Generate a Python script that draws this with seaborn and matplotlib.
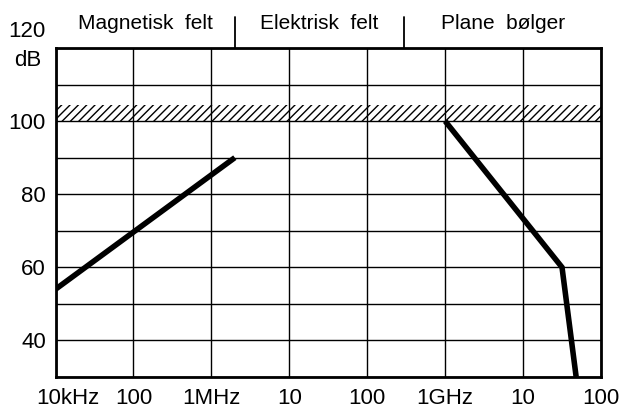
import matplotlib
matplotlib.use("Agg")
import matplotlib.pyplot as plt
import matplotlib.transforms as mtransforms
import seaborn as sns
import numpy as np

# Data
magnetic_freq = [1e4, 2e6]
magnetic_db = [54, 90]

plane_freq = [1e9, 3.16e10, 4.8e10]
plane_db = [100, 60, 30]

# hatched limit band (dB)
band_low, band_high = 100, 104.5

x_ticks = [1e4, 1e5, 1e6, 1e7, 1e8, 1e9, 1e10, 1e11]
x_labels = ["10kHz", "100", "1MHz", "10", "100", "1GHz", "10", "100"]
y_ticks = [30, 40, 50, 60, 70, 80, 90, 100, 110, 120]
y_labels = ["", "40", "", "60", "", "80", "", "100", "", ""]

# field regions along the top
region_edges = [1e4, 2e6, 3e8, 1e11]
region_names = ["Magnetisk  felt", "Elektrisk  felt", "Plane  bølger"]

sns.set_style("white")
plt.rcParams["font.family"] = ["Liberation Sans", "DejaVu Sans"]
plt.rcParams["text.color"] = "black"
plt.rcParams["hatch.linewidth"] = 1.0

fig = plt.figure(figsize=(6.21, 4.12), dpi=100)
ax = fig.add_axes([0.0894, 0.085, 0.9678 - 0.0894, 0.8835 - 0.085])

ax.set_xscale("log")
ax.set_xlim(1e4, 1e11)
ax.set_ylim(30, 120)

# hatched band
ax.axhspan(band_low, band_high, facecolor="none", edgecolor="black",
           hatch="////", linewidth=0, zorder=1)

sns.lineplot(x=magnetic_freq, y=magnetic_db, sort=False, color="black",
             linewidth=4, solid_capstyle="butt", ax=ax, zorder=3)
sns.lineplot(x=plane_freq, y=plane_db, sort=False, color="black",
             linewidth=4, solid_capstyle="butt", solid_joinstyle="miter",
             ax=ax, zorder=3)

ax.set_xticks(x_ticks)
ax.set_xticklabels(x_labels)
ax.xaxis.set_minor_locator(matplotlib.ticker.NullLocator())
ax.set_yticks(y_ticks)
ax.set_yticklabels(y_labels)
ax.tick_params(axis="both", length=0, labelsize=16, colors="black")
ax.tick_params(axis="x", pad=8)
ax.tick_params(axis="y", pad=7)

# nudge the first x label to the right like the original
first = ax.get_xticklabels()[0]
first.set_transform(first.get_transform() +
                    mtransforms.ScaledTranslation(9 / 72, 0, fig.dpi_scale_trans))

ax.grid(True, color="black", linewidth=1.0)
ax.set_axisbelow(True)
for side in ax.spines.values():
    side.set_linewidth(2.0)
    side.set_color("black")
    side.set_zorder(4)

# "120" and unit label at the top of the y axis
ax.annotate("120", xy=(0, 120), xycoords=("axes fraction", "data"),
            xytext=(-7, 12), textcoords="offset points",
            ha="right", va="center", fontsize=16)
ax.annotate("dB", xy=(0, 120), xycoords=("axes fraction", "data"),
            xytext=(-20, -9), textcoords="offset points",
            ha="center", va="center", fontsize=16)

# region dividers and names above the plot
trans = mtransforms.blended_transform_factory(ax.transData, ax.transAxes)
for edge in region_edges[1:-1]:
    ax.plot([edge, edge], [1.0, 1.094], transform=trans, color="black",
            linewidth=1.3, clip_on=False)
for i, name in enumerate(region_names):
    mid = 10 ** ((np.log10(region_edges[i]) + np.log10(region_edges[i + 1])) / 2)
    ax.text(mid, 1.058, name, transform=trans, ha="center", va="baseline",
            fontsize=15)

fig.savefig("out.png", dpi=100)
